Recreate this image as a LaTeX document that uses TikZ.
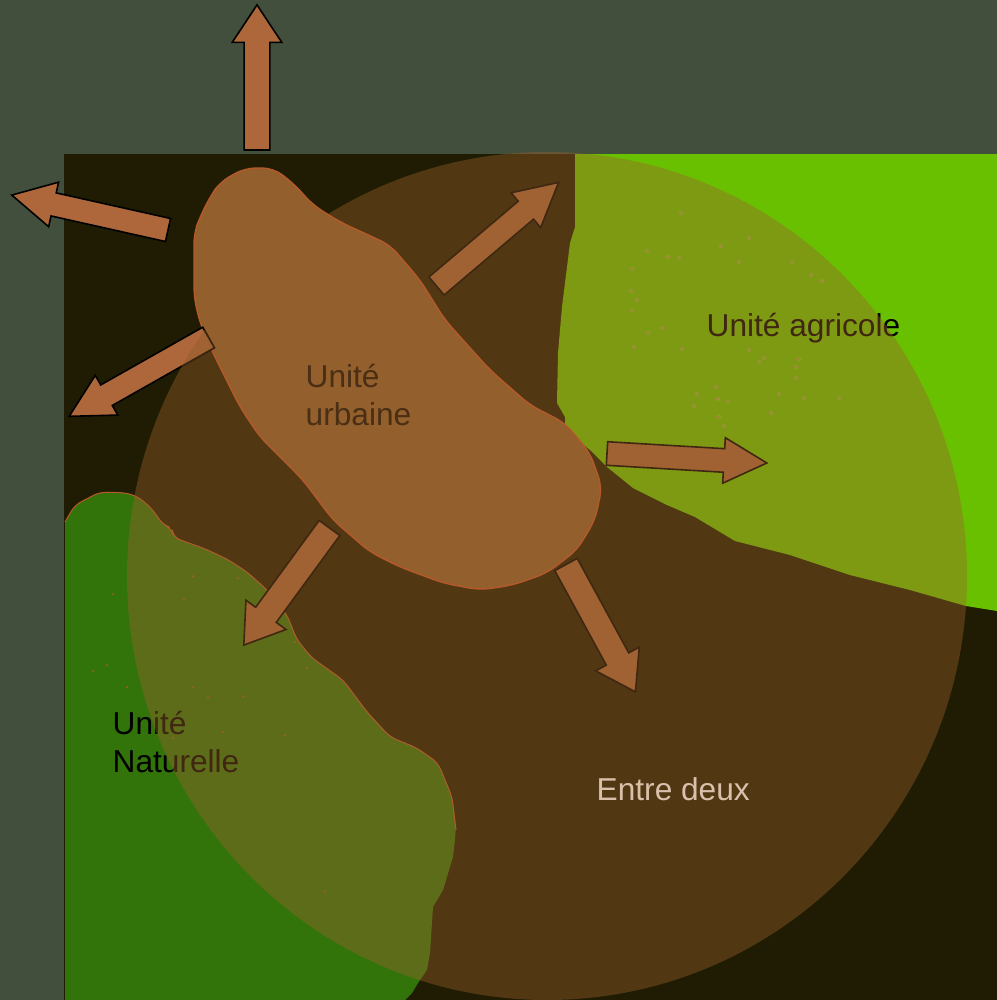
\documentclass[tikz,border=0pt]{standalone}
\usepackage{fontspec}
\setmainfont{Liberation Sans}
\usetikzlibrary{shapes.arrows}

\definecolor{outerbg}{HTML}{414F3C}
\definecolor{darkbg}{HTML}{1F1C03}
\definecolor{agribg}{HTML}{69C000}
\definecolor{naturebg}{HTML}{32730A}
\definecolor{overlaybg}{HTML}{9E622D}
\definecolor{urbanbg}{HTML}{935F2D}
\definecolor{urbanedge}{HTML}{B5592A}
\definecolor{arrowout}{HTML}{AD673A}
\definecolor{arrowin}{HTML}{A06232}
\definecolor{arrowline}{HTML}{3F2712}
\definecolor{urbantext}{HTML}{4A2F14}
\definecolor{spotlight}{HTML}{A89A50}
\definecolor{spotdark}{HTML}{B5603A}

\newcommand{\agriline}{(575,154) -- (575,227) -- (570,243) -- (567,267) -- (562,307) -- (558,353) -- (557,403) -- (565,417) -- (565,430) -- (590,450) -- (607,467) -- (633,488) -- (667,505) -- (695,517) -- (735,541) -- (790,555) -- (850,575) -- (910,590) -- (966,606) -- (997,611)}
\newcommand{\natureline}{(65,522) -- (75,505) -- (100,492) -- (128,493) -- (140,498) -- (153,510) -- (163,525) -- (172,528) -- (173,537) -- (183,541) -- (203,548) -- (227,559) -- (247,572) -- (267,590) -- (287,615) -- (297,640) -- (312,658) -- (343,680) -- (367,712) -- (390,737) -- (417,748) -- (438,763) -- (452,797) -- (456,830)}
\newcommand{\urbanline}{(245,168) -- (273,168) -- (293,183) -- (313,205) -- (340,222) -- (390,245) -- (420,280) -- (445,320) -- (490,370) -- (530,405) -- (565,423) -- (590,453) -- (602,487) -- (595,520) -- (577,550) -- (547,573) -- (513,585) -- (480,590) -- (443,583) -- (400,567) -- (370,552) -- (333,520) -- (303,480) -- (260,437) -- (240,407) -- (213,353) -- (200,323) -- (194,297) -- (194,233) -- (200,217) -- (210,197) -- (220,182)}

\begin{document}
\begin{tikzpicture}[
    x=0.01cm, y=-0.01cm,
    label/.style={inner sep=0pt, align=left, font=\fontsize{9}{11}\selectfont},
    blockarrow/.style={single arrow, anchor=tail, draw=arrowline, fill=arrowin, line width=0.45pt, inner sep=0pt, outer sep=0pt, text depth=0pt, single arrow head indent=0pt},
    shortarrow/.style={blockarrow, minimum height=1.45cm, text height=0.24cm, single arrow head extend=0.12cm, single arrow tip angle=67},
    longarrow/.style={blockarrow, minimum height=1.60cm, text height=0.22cm, single arrow head extend=0.11cm, single arrow tip angle=56},
    outside/.style={draw=black, fill=arrowout}
]

    \useasboundingbox (0,0) rectangle (997,1000);

    % Grounds
    \fill[outerbg] (0,0) rectangle (997,1000);
    \fill[darkbg] (64,154) rectangle (997,1000);
    \fill[agribg] \agriline -- (997,154) -- cycle;
    \fill[naturebg, rounded corners=2pt] \natureline [sharp corners] -- (453,857) -- (443,890) -- (433,907) -- (430,953) -- (427,970) -- (418,983) -- (412,993) -- (405,1000) -- (65,1000) -- (65,522);
    \draw[urbanedge, line width=0.3pt, rounded corners=2pt] \natureline;

    % Labels under the disc
    \node[label, anchor=base west] (agri) at (706,336) {Unité agricole};
    \node[label, anchor=north west] (nature) at (112,710) {Unité\\Naturelle};
    \node[label, anchor=base west, text=white] (between) at (596,800) {Entre deux};

    % Disc
    \fill[overlaybg, fill opacity=0.4] (547,576) ellipse (420 and 424);

    % Spots
    \foreach \px/\py in {647/251,668/257,679/258,749/238,792/262,811/275,822/281,632/269,631/291,637/300,632/311,662/328,648/333,634/347,682/349,749/350,764/358,759/362,799/359,796/367,796/378,716/387,697/394,718/399,728/401,694/406,779/394,804/398,839/398,771/413,719/417,724/426,681/213,721/246,739/262} {
        \fill[spotlight] (\px,\py) circle (1.8);
        \fill[spotdark] (\px,\py) circle (0.9);
    }
    \foreach \px/\py in {107/665,93/671,127/687,208/697,193/687,243/696,223/732,285/735,113/594,193/576,238/578,184/599,173/738,325/891,295/642,307/668}
        \fill[urbanedge] (\px,\py) circle (1);

    % Urban unit
    \filldraw[fill=urbanbg, draw=urbanedge, line width=0.4pt, rounded corners=3pt] \urbanline -- cycle;
    \node[label, anchor=north west, text=urbantext] (urban) at (305,363) {Unité\\urbaine};

    % Arrows
    \node[shortarrow, outside, rotate=90] (arrowtop) at (257,150) {};
    \node[longarrow, outside, rotate=167.4] (arrowleft) at (168,230) {};
    \node[longarrow, outside, rotate=209.5] (arrowwest) at (208.5,337.5) {};
    \begin{scope}
        \clip (547,576) ellipse (420 and 424);
        \node[longarrow, rotate=209.5] (arrowwestin) at (208.5,337.5) {};
    \end{scope}
    \node[shortarrow, rotate=233.8] (arrowsouth) at (329.5,528) {};
    \node[shortarrow, rotate=-61.4] (arrowsoutheast) at (566,564.5) {};
    \node[longarrow, rotate=-3.4] (arrowagri) at (607,453.5) {};
    \node[longarrow, rotate=40.3] (arrowin) at (436.5,286) {};

\end{tikzpicture}
\end{document}
